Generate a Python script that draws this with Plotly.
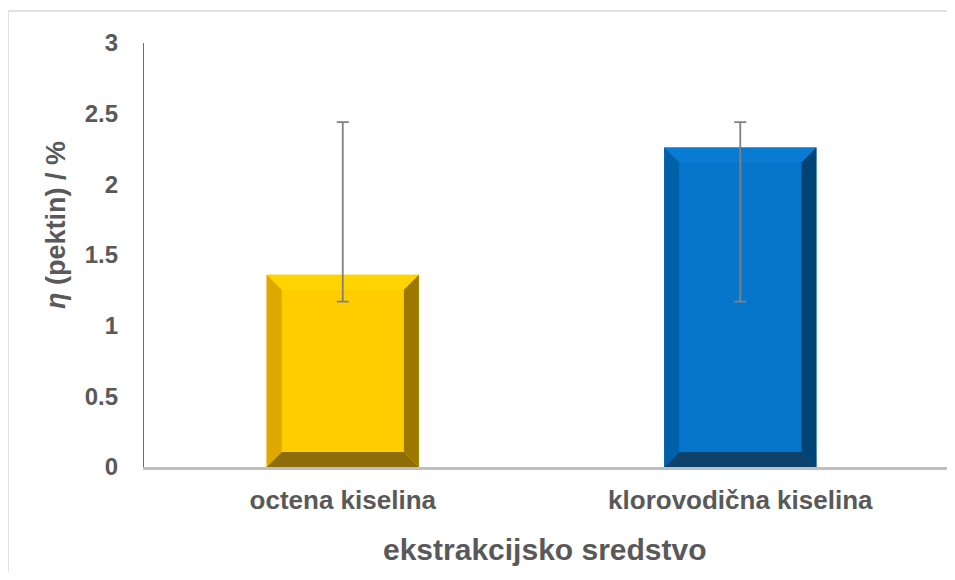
import plotly.graph_objects as go

categories = ["octena kiselina", "klorovodična kiselina"]
values = [1.36, 2.26]
err_plus = [1.08, 0.18]
err_minus = [0.19, 1.09]
y_ticks = [0, 0.5, 1, 1.5, 2, 2.5, 3]
y_tick_labels = ["0", "0.5", "1", "1.5", "2", "2.5", "3"]

face_colors = ["#FFCC00", "#0676CC"]
top_colors = ["#FFD400", "#0A7BD2"]
left_colors = ["#DFA800", "#0061A8"]
right_colors = ["#9C7800", "#004476"]
bottom_colors = ["#8C6D0A", "#0D426D"]

# page body has an 8px margin; size the figure so it fits without scrolling
OFF = 8
W, H = 939, 564
ML, MR, MT, MB = 136, 0, 35, 105
XR = [-0.5, 1.52]
YR = [0, 3]
BAR_W = 0.383
BEVEL_PX = 15

plot_w = W - ML - MR
plot_h = H - MT - MB
dx = BEVEL_PX * (XR[1] - XR[0]) / plot_w
dy = BEVEL_PX * (YR[1] - YR[0]) / plot_h


def px2x(px):
    return (px - OFF - ML) / plot_w


def py2y(py):
    return (H - MB - (py - OFF)) / plot_h


xs = list(range(len(categories)))
fig = go.Figure()

fig.add_trace(go.Bar(x=xs, y=values, width=BAR_W, marker=dict(color=face_colors, line=dict(width=0)),
                     hoverinfo="skip", showlegend=False))


def poly(px, py, color):
    fig.add_trace(go.Scatter(x=px + [px[0]], y=py + [py[0]], mode="lines", fill="toself",
                             fillcolor=color, line=dict(width=0, color=color),
                             hoverinfo="skip", showlegend=False))


for i, v in enumerate(values):
    c = xs[i]
    a, b = c - BAR_W / 2, c + BAR_W / 2
    poly([a, b, b - dx, a + dx], [v, v, v - dy, v - dy], top_colors[i])
    poly([a, b, b - dx, a + dx], [0, 0, dy, dy], bottom_colors[i])
    poly([a, a, a + dx, a + dx], [0, v, v - dy, dy], left_colors[i])
    poly([b, b, b - dx, b - dx], [0, v, v - dy, dy], right_colors[i])

fig.add_trace(go.Scatter(x=xs, y=values, mode="markers", marker=dict(size=1, opacity=0),
                         error_y=dict(type="data", array=err_plus, arrayminus=err_minus,
                                      color="#808080", thickness=1.8, width=6),
                         hoverinfo="skip", showlegend=False))

txt = "#595959"
FAM = "Liberation Sans, Arial, sans-serif"
fig.update_layout(
    width=W, height=H,
    margin=dict(l=ML, r=MR, t=MT, b=MB),
    plot_bgcolor="white", paper_bgcolor="white",
    font=dict(family=FAM, color=txt),
    xaxis=dict(range=XR, tickvals=xs, ticktext=categories, showgrid=False, zeroline=False,
               showline=True, linecolor="#BFBFBF", linewidth=2.5, ticks="",
               tickfont=dict(size=26, color=txt, family=FAM, weight="bold"),
               ticklabelstandoff=8),
    yaxis=dict(range=YR, tickvals=y_ticks, ticktext=y_tick_labels,
               showgrid=False, zeroline=False, showline=True, linecolor="#4472C4", linewidth=1.2,
               ticks="", tickfont=dict(size=24, color=txt, family=FAM, weight="bold"),
               ticklabelstandoff=20),
    annotations=[
        dict(text="<i>η</i> (pektin) / %", xref="paper", yref="paper",
             x=px2x(56), y=py2y(225), textangle=-90,
             showarrow=False, xanchor="center", yanchor="middle",
             font=dict(size=27, color=txt, family=FAM, weight="bold")),
        dict(text="ekstrakcijsko sredstvo", xref="paper", yref="paper",
             x=px2x(545), y=py2y(549),
             showarrow=False, xanchor="center", yanchor="middle",
             font=dict(size=30, color=txt, family=FAM, weight="bold")),
    ],
    shapes=[dict(type="rect", xref="paper", yref="paper",
                 x0=px2x(8), x1=px2x(975),
                 y0=py2y(600), y1=py2y(11),
                 line=dict(color="#D9D9D9", width=1.5), fillcolor="rgba(0,0,0,0)", layer="below")],
)

fig.write_html("out.html")
